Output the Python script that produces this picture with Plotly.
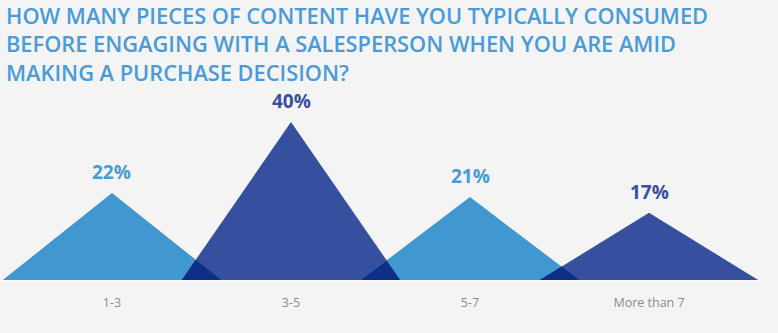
import plotly.graph_objects as go

categories = ["1-3", "3-5", "5-7", "More than 7"]
values = [22, 40, 21, 17]
label_text = ["22%", "40%", "21%", "17%"]
title_lines = [
    "HOW MANY PIECES OF CONTENT HAVE YOU TYPICALLY CONSUMED",
    "BEFORE ENGAGING WITH A SALESPERSON WHEN YOU ARE AMID",
    "MAKING A PURCHASE DECISION?",
]

LIGHT = "#4197CF"
DARK = "#36509F"
OVERLAP = "#0E2F87"
LIGHT_TXT = "#4A9BD5"
DARK_TXT = "#3A4FA0"
BG = "#F4F4F4"
HALF = 0.61  # half base width of each triangle in category units

fig = go.Figure()
xs = list(range(len(categories)))

for i, v in enumerate(values):
    color = LIGHT if i % 2 == 0 else DARK
    fig.add_trace(go.Scatter(
        x=[i - HALF, i, i + HALF, i - HALF],
        y=[0, v, 0, 0],
        mode="lines", fill="toself", fillcolor=color,
        line=dict(width=0, color=color), hoverinfo="skip", showlegend=False,
    ))

# overlap regions computed from neighbouring triangles
for i in range(len(values) - 1):
    h1, h2 = values[i], values[i + 1]
    a = i + HALF          # right base of left triangle
    b = i + 1 - HALF      # left base of right triangle
    xm = (h1 * a + h2 * b) / (h1 + h2)
    ym = h1 * (a - xm) / HALF
    fig.add_trace(go.Scatter(
        x=[b, xm, a, b], y=[0, ym, 0, 0],
        mode="lines", fill="toself", fillcolor=OVERLAP,
        line=dict(width=0, color=OVERLAP), hoverinfo="skip", showlegend=False,
    ))

for i, (v, t) in enumerate(zip(values, label_text)):
    fig.add_annotation(
        x=i, y=v, text=t, showarrow=False, yanchor="bottom", yshift=6,
        font=dict(family="Open Sans", size=19, weight="bold",
                  color=LIGHT_TXT if i % 2 == 0 else DARK_TXT),
    )

fig.add_annotation(
    xref="paper", yref="paper", x=0, y=1, xshift=3, yshift=81,
    xanchor="left", yanchor="top", align="left", showarrow=False,
    text="<br>".join(title_lines),
    font=dict(family="Open Sans", size=21.8, weight=600, color="#4A9BD8"),
)

fig.update_layout(
    width=778, height=333,
    margin=dict(l=1, r=18, t=80, b=53),
    paper_bgcolor=BG, plot_bgcolor=BG,
    xaxis=dict(
        range=[-0.62, 3.62], tickmode="array", tickvals=xs, ticktext=categories,
        showgrid=False, zeroline=False, showline=True, linecolor="#FBFBFB",
        linewidth=2, ticks="", ticklabelstandoff=10,
        tickfont=dict(family="Open Sans", size=12.5, color="#8C8C8C"),
        fixedrange=True,
    ),
    yaxis=dict(range=[0, 200 / 3.95], visible=False, fixedrange=True),
)

fig.write_html("out.html")
